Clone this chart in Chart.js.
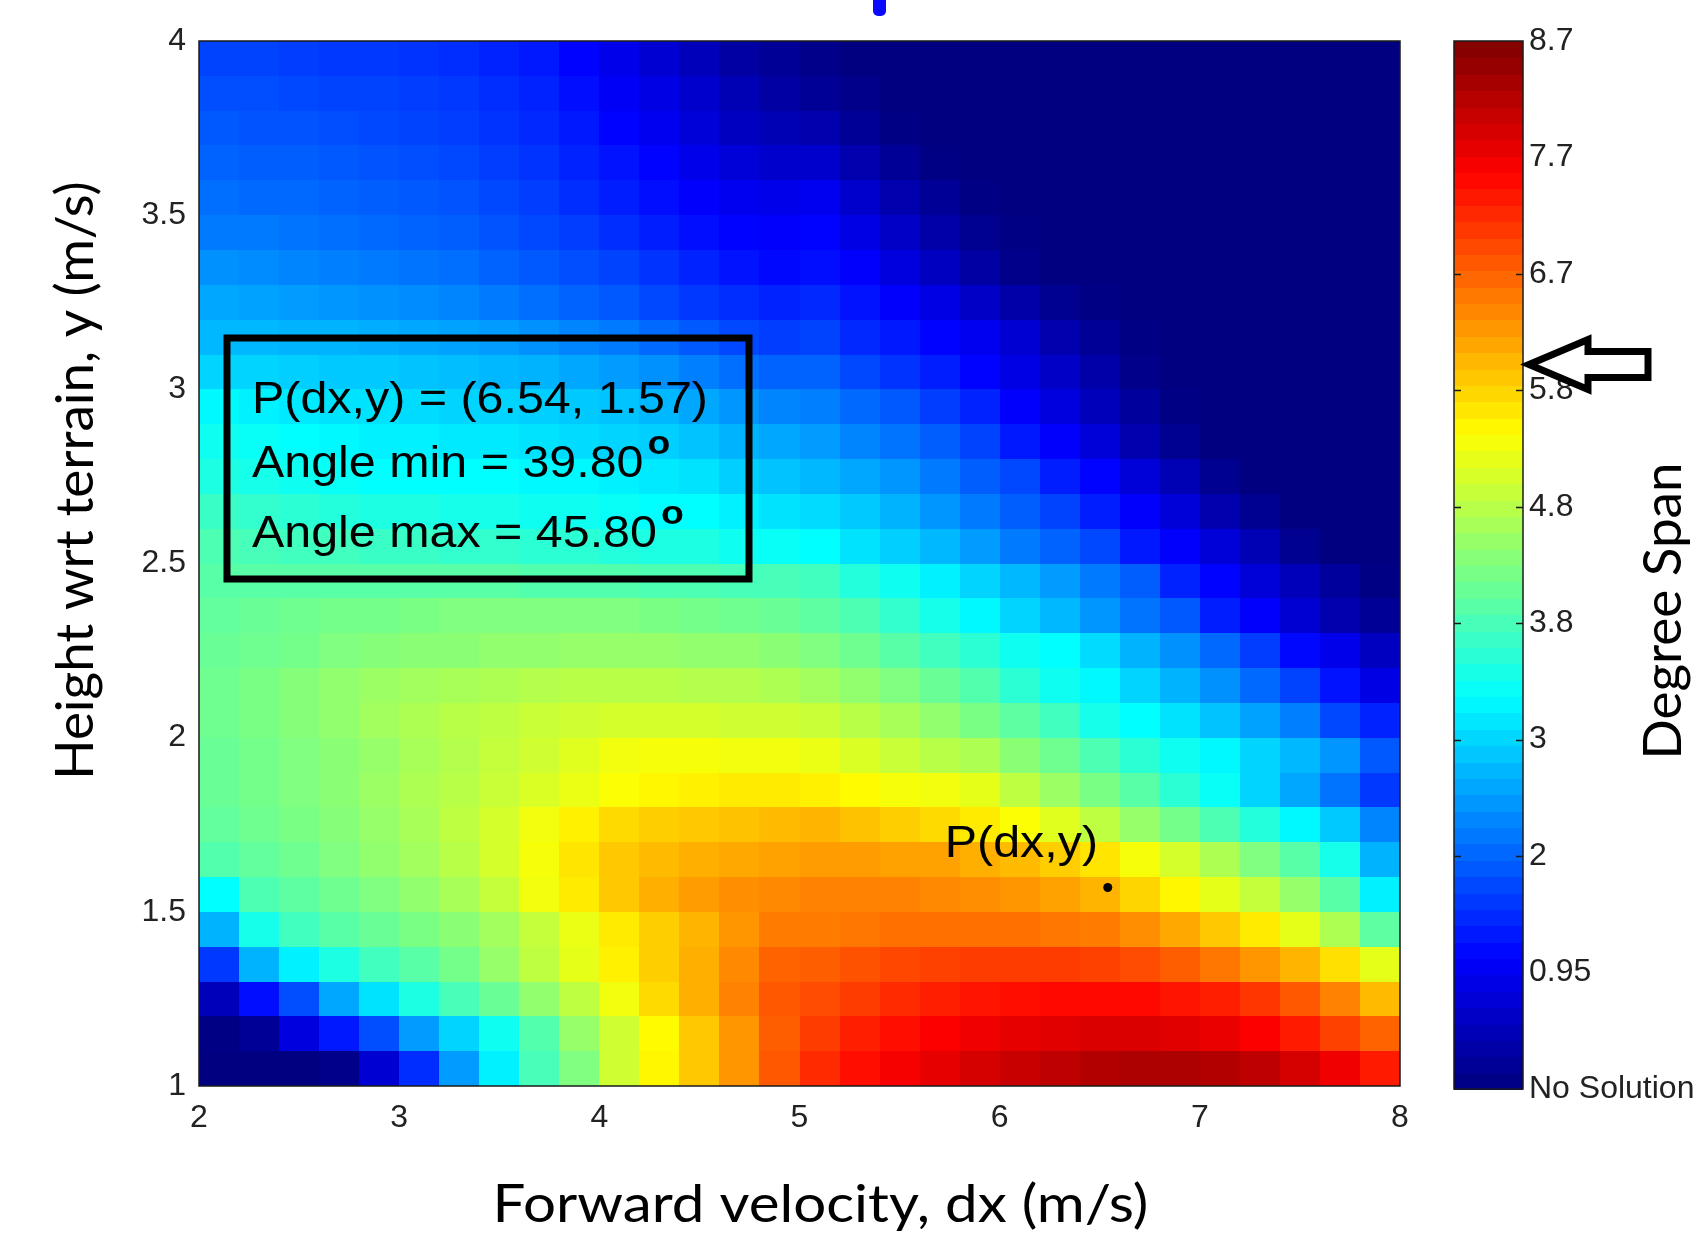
<!DOCTYPE html>
<html>
<head>
<meta charset="utf-8">
<script src="https://cdn.jsdelivr.net/npm/chart.js@4.4.1/dist/chart.umd.min.js"></script>
<style>
  html, body { margin: 0; padding: 0; background: #fff; }
  #wrap { position: relative; width: 1694px; height: 1244px; overflow: hidden; background: #fff; }
  #heat { position: absolute; left: 0; top: 0; }
  #cbar { position: absolute; left: 1400px; top: 0; }
  #topMark { position: absolute; left: 873px; top: 0; width: 13px; height: 16px; background: #0a0aff; border-radius: 0 0 5px 5px; }
</style>
</head>
<body>
<div id="wrap">
  <canvas id="heat" width="1694" height="1244"></canvas>
  <canvas id="cbar" width="294" height="1244"></canvas>
  <div id="topMark"></div>
</div>
<script>
// grid cell centres (forward velocity dx, height y)
const dxCenters = [2.1, 2.3, 2.5, 2.7, 2.9, 3.1, 3.3, 3.5, 3.7, 3.9, 4.1, 4.3, 4.5, 4.7, 4.9,
                   5.1, 5.3, 5.5, 5.7, 5.9, 6.1, 6.3, 6.5, 6.7, 6.9, 7.1, 7.3, 7.5, 7.7, 7.9];
const yCenters = [3.95, 3.85, 3.75, 3.65, 3.55, 3.45, 3.35, 3.25, 3.15, 3.05,
                  2.95, 2.85, 2.75, 2.65, 2.55, 2.45, 2.35, 2.25, 2.15, 2.05,
                  1.95, 1.85, 1.75, 1.65, 1.55, 1.45, 1.35, 1.25, 1.15, 1.05];

// degree span per cell, one row per yCenters entry (0 = no solution)
const degreeSpan = [
  [1.7,1.7,1.65,1.6,1.6,1.55,1.5,1.4,1.3,1.1,0.9,0.7,0.5,0.3,0.2, 0.1,0,0,0,0,0,0,0,0,0,0,0,0,0,0],
  [1.8,1.8,1.75,1.7,1.7,1.65,1.6,1.5,1.4,1.2,1.0,0.85,0.65,0.45,0.3, 0.2,0.1,0,0,0,0,0,0,0,0,0,0,0,0,0],
  [1.9,1.85,1.85,1.8,1.75,1.7,1.65,1.55,1.45,1.3,1.1,0.95,0.75,0.55,0.45, 0.4,0.2,0.05,0,0,0,0,0,0,0,0,0,0,0,0],
  [2.0,1.95,1.95,1.9,1.85,1.8,1.75,1.65,1.55,1.4,1.25,1.1,0.9,0.75,0.65, 0.65,0.4,0.2,0.05,0,0,0,0,0,0,0,0,0,0,0],
  [2.1,2.05,2.05,2.0,1.95,1.9,1.85,1.75,1.65,1.5,1.35,1.2,1.05,0.95,0.9, 0.95,0.65,0.4,0.2,0.05,0,0,0,0,0,0,0,0,0,0],
  [2.2,2.2,2.15,2.1,2.05,2.0,1.95,1.85,1.75,1.65,1.5,1.35,1.2,1.1,1.05, 1.1,0.85,0.6,0.35,0.15,0.05,0,0,0,0,0,0,0,0,0],
  [2.4,2.35,2.3,2.25,2.2,2.15,2.1,2.0,1.9,1.8,1.7,1.55,1.4,1.25,1.15, 1.2,1.05,0.8,0.55,0.3,0.1,0,0,0,0,0,0,0,0,0],
  [2.6,2.55,2.5,2.45,2.4,2.35,2.3,2.2,2.1,2.0,1.9,1.75,1.6,1.5,1.4, 1.45,1.25,1.05,0.85,0.6,0.35,0.15,0.05,0,0,0,0,0,0,0],
  [2.75,2.75,2.7,2.7,2.65,2.6,2.55,2.5,2.4,2.3,2.2,2.05,1.9,1.75,1.65, 1.7,1.45,1.3,1.1,0.95,0.7,0.4,0.2,0.05,0,0,0,0,0,0],
  [3.0,3.0,2.95,2.9,2.9,2.85,2.8,2.75,2.7,2.6,2.5,2.4,2.25,2.1,2.0, 2.0,1.75,1.55,1.35,1.1,0.85,0.6,0.35,0.1,0,0,0,0,0,0],
  [3.25,3.2,3.15,3.1,3.1,3.05,3.0,3.0,2.95,2.9,2.85,2.75,2.6,2.45,2.3, 2.25,2.05,1.9,1.65,1.4,1.05,0.8,0.5,0.25,0.05,0,0,0,0,0],
  [3.4,3.35,3.3,3.25,3.2,3.2,3.15,3.15,3.1,3.05,3.0,2.95,2.85,2.7,2.6, 2.5,2.3,2.15,1.95,1.7,1.3,1.05,0.75,0.4,0.15,0,0,0,0,0],
  [3.5,3.45,3.4,3.35,3.3,3.3,3.3,3.3,3.25,3.25,3.2,3.15,3.1,2.95,2.85, 2.75,2.6,2.45,2.2,1.95,1.75,1.35,1.1,0.75,0.45,0.15,0,0,0,0],
  [3.7,3.65,3.6,3.55,3.5,3.5,3.45,3.45,3.4,3.4,3.35,3.3,3.3,3.2,3.1, 3.05,2.9,2.7,2.45,2.2,1.95,1.7,1.35,1.05,0.75,0.4,0.15,0,0,0],
  [3.85,3.8,3.75,3.75,3.7,3.7,3.65,3.65,3.6,3.6,3.55,3.5,3.5,3.4,3.35, 3.3,3.1,2.95,2.75,2.5,2.2,2.0,1.75,1.3,1.05,0.75,0.45,0.15,0,0],
  [3.95,3.95,3.95,3.95,3.95,3.95,3.95,3.95,3.9,3.9,3.9,3.85,3.85,3.8,3.8, 3.75,3.55,3.4,3.2,3.0,2.75,2.5,2.2,1.95,1.4,1.1,0.75,0.5,0.25,0.05],
  [4.05,4.1,4.15,4.2,4.2,4.25,4.3,4.3,4.3,4.3,4.3,4.25,4.2,4.15,4.1, 4.0,3.85,3.65,3.45,3.25,3.0,2.75,2.45,2.15,1.9,1.35,1.05,0.7,0.4,0.2],
  [4.1,4.15,4.2,4.3,4.35,4.4,4.4,4.45,4.45,4.5,4.5,4.5,4.45,4.45,4.4, 4.3,4.15,3.95,3.75,3.6,3.4,3.3,3.05,2.7,2.4,2.05,1.65,1.15,0.9,0.55],
  [4.15,4.25,4.35,4.45,4.55,4.6,4.65,4.7,4.75,4.8,4.8,4.8,4.75,4.75,4.7, 4.6,4.45,4.3,4.1,3.9,3.6,3.4,3.25,3.0,2.7,2.4,2.05,1.7,1.25,0.85],
  [4.15,4.25,4.35,4.45,4.6,4.7,4.8,4.85,4.95,5.0,5.05,5.05,5.05,5.0,5.0, 4.95,4.8,4.65,4.45,4.25,4.0,3.75,3.45,3.3,3.1,2.85,2.55,2.25,1.75,1.4],
  [4.1,4.2,4.3,4.4,4.5,4.65,4.75,4.9,5.0,5.15,5.3,5.35,5.35,5.3,5.3, 5.25,5.1,4.95,4.8,4.7,4.4,4.15,3.85,3.6,3.4,3.25,3.0,2.75,2.45,1.9],
  [4.1,4.2,4.3,4.4,4.55,4.7,4.8,4.95,5.1,5.25,5.4,5.5,5.55,5.6,5.6, 5.55,5.45,5.35,5.3,5.2,4.85,4.55,4.25,3.95,3.6,3.35,3.0,2.6,2.15,1.6],
  [4.05,4.15,4.25,4.35,4.5,4.65,4.85,5.05,5.3,5.55,5.75,5.85,5.9,5.95,6.0, 6.05,5.95,5.85,5.75,5.6,5.4,5.15,4.85,4.5,4.2,3.85,3.55,3.25,2.9,2.3],
  [3.9,4.05,4.15,4.3,4.45,4.6,4.8,5.05,5.35,5.65,5.9,6.0,6.1,6.15,6.2, 6.25,6.25,6.2,6.2,6.1,6.0,5.85,5.65,5.35,5.05,4.7,4.3,3.95,3.45,2.7],
  [3.3,3.85,4.0,4.15,4.3,4.45,4.65,4.9,5.3,5.6,5.9,6.1,6.25,6.35,6.4, 6.45,6.45,6.45,6.4,6.35,6.3,6.2,6.05,5.8,5.5,5.2,4.9,4.5,3.95,3.2],
  [2.7,3.45,3.75,3.95,4.1,4.25,4.4,4.6,4.9,5.25,5.6,5.85,6.05,6.3,6.5, 6.5,6.55,6.6,6.6,6.6,6.6,6.55,6.5,6.35,6.15,5.9,5.6,5.2,4.7,4.0],
  [1.6,2.7,3.2,3.5,3.75,3.95,4.2,4.5,4.85,5.2,5.55,5.85,6.1,6.4,6.7, 6.75,6.85,6.95,7.0,7.05,7.05,7.05,7.0,6.9,6.75,6.55,6.3,6.05,5.7,5.2],
  [0.5,1.2,1.8,2.6,3.1,3.5,3.8,4.1,4.45,4.85,5.3,5.75,6.1,6.45,6.8, 6.9,7.05,7.2,7.3,7.4,7.45,7.5,7.5,7.5,7.4,7.3,7.1,6.8,6.45,6.0],
  [0.05,0.2,0.8,1.3,1.8,2.5,3.0,3.4,3.9,4.5,5.0,5.45,5.9,6.3,6.75, 7.05,7.3,7.45,7.6,7.7,7.8,7.85,7.9,7.9,7.85,7.75,7.6,7.35,7.0,6.7],
  [0,0,0,0.1,0.7,1.5,2.5,3.2,3.8,4.3,5.0,5.5,5.9,6.3,6.8, 7.2,7.45,7.65,7.8,7.95,8.05,8.15,8.25,8.3,8.3,8.25,8.15,7.95,7.7,7.35]
];

// colour bar: label text and the degree value at each evenly spaced label
const colorbarLabels = ['No Solution', '0.95', '2', '3', '3.8', '4.8', '5.8', '6.7', '7.7', '8.7'];
const colorbarValues = [0, 0.95, 2, 3, 3.8, 4.8, 5.8, 6.7, 7.7, 8.7];
const colorbarTickedIdx = [2, 3, 4, 5, 6, 7];

// highlighted point
const pointP = { dx: 6.54, y: 1.57, angleMin: 39.80, angleMax: 45.80 };

const TICK_FONT = { family: '"Liberation Sans", Arial, sans-serif', size: 32 };
const TITLE_FONT = '53px Lato, "Open Sans", sans-serif';
const NOTE_FONT = '44px "Liberation Sans", Arial, sans-serif';
const SUP_FONT = 'bold 34px "Liberation Sans", Arial, sans-serif';

// degree span -> position 0..1 along the colour bar
function spanToLevel(v) {
  const n = colorbarValues.length - 1;
  for (let i = 1; i <= n; i++) {
    if (v <= colorbarValues[i]) {
      const a = colorbarValues[i - 1], b = colorbarValues[i];
      return (i - 1 + (v - a) / (b - a)) / n;
    }
  }
  return 1;
}

function jet(t) {
  const c = k => Math.round(255 * Math.max(0, Math.min(1, 1.5 - Math.abs(4 * t - k))));
  return 'rgb(' + c(3) + ',' + c(2) + ',' + c(1) + ')';
}

function edges(centers, i) {
  const lo = i === 0 ? centers[0] - (centers[1] - centers[0]) / 2 : (centers[i - 1] + centers[i]) / 2;
  const last = centers.length - 1;
  const hi = i === last ? centers[last] + (centers[last] - centers[last - 1]) / 2 : (centers[i] + centers[i + 1]) / 2;
  return [lo, hi];
}

function wideText(ctx, text, x, y, font, sx) {
  ctx.save();
  ctx.font = font;
  ctx.translate(x, y);
  ctx.scale(sx, 1);
  ctx.fillText(text, 0, 0);
  const w = ctx.measureText(text).width * sx;
  ctx.restore();
  return w;
}

const heatmapPlugin = {
  id: 'heatmap',
  beforeDatasetsDraw(chart) {
    const { ctx, chartArea: a, scales: { x, y } } = chart;
    ctx.save();
    ctx.beginPath();
    ctx.rect(a.left, a.top, a.right - a.left, a.bottom - a.top);
    ctx.clip();
    for (let r = 0; r < yCenters.length; r++) {
      const [ylo, yhi] = edges(yCenters, r);
      const p0 = Math.round(y.getPixelForValue(ylo)), p1 = Math.round(y.getPixelForValue(yhi));
      for (let c = 0; c < dxCenters.length; c++) {
        const [xlo, xhi] = edges(dxCenters, c);
        const q0 = Math.round(x.getPixelForValue(xlo)), q1 = Math.round(x.getPixelForValue(xhi));
        ctx.fillStyle = jet(spanToLevel(degreeSpan[r][c]));
        ctx.fillRect(Math.min(q0, q1), Math.min(p0, p1), Math.abs(q1 - q0) + 1, Math.abs(p1 - p0) + 1);
      }
    }
    ctx.restore();
  }
};

const overlayPlugin = {
  id: 'overlay',
  afterDraw(chart) {
    const { ctx, chartArea: a, scales: { x, y } } = chart;
    ctx.save();
    ctx.strokeStyle = '#1a1a1a';
    ctx.lineWidth = 1.5;
    ctx.strokeRect(a.left, a.top, a.right - a.left, a.bottom - a.top);

    ctx.fillStyle = '#000';
    ctx.textAlign = 'left';
    ctx.textBaseline = 'alphabetic';

    // label next to the point
    const px = x.getPixelForValue(pointP.dx), py = y.getPixelForValue(pointP.y);
    wideText(ctx, 'P(dx,y)', px - 163, py - 30, NOTE_FONT, 1.1);

    // info box
    const bx = a.left + 28, by = a.top + 297, bw = 522, bh = 241;
    ctx.lineWidth = 7;
    ctx.strokeStyle = '#000';
    ctx.strokeRect(bx, by, bw, bh);
    const tx = bx + 25;
    wideText(ctx, 'P(dx,y) = (' + pointP.dx.toFixed(2) + ', ' + pointP.y.toFixed(2) + ')', tx, by + 75, NOTE_FONT, 1.1);
    let w = wideText(ctx, 'Angle min = ' + pointP.angleMin.toFixed(2), tx, by + 139, NOTE_FONT, 1.1);
    wideText(ctx, 'o', tx + w + 4, by + 116, SUP_FONT, 1.1);
    w = wideText(ctx, 'Angle max = ' + pointP.angleMax.toFixed(2), tx, by + 209, NOTE_FONT, 1.1);
    wideText(ctx, 'o', tx + w + 4, by + 186, SUP_FONT, 1.1);

    // axis titles
    ctx.textAlign = 'center';
    ctx.textBaseline = 'middle';
    wideText(ctx, 'Forward velocity, dx (m/s)', (a.left + a.right) / 2 + 21, a.bottom + 119, TITLE_FONT, 1.1);
    ctx.save();
    ctx.translate(a.left - 123, (a.top + a.bottom) / 2 - 83);
    ctx.rotate(-Math.PI / 2);
    ctx.font = TITLE_FONT;
    ctx.fillText('Height wrt terrain, y (m/s)', 0, 0);
    ctx.restore();
    ctx.restore();
  }
};

new Chart(document.getElementById('heat'), {
  type: 'scatter',
  data: {
    datasets: [{
      data: [{ x: pointP.dx, y: pointP.y }],
      pointRadius: 4.5,
      backgroundColor: '#000',
      borderWidth: 0
    }]
  },
  options: {
    responsive: false,
    animation: false,
    devicePixelRatio: 1,
    layout: { padding: { left: 0, top: 41, right: 294, bottom: 0 } },
    plugins: { legend: { display: false }, tooltip: { enabled: false } },
    scales: {
      x: {
        type: 'linear', min: 2, max: 8,
        ticks: { stepSize: 1, padding: 13, maxRotation: 0, color: '#222', font: TICK_FONT, callback: v => String(v) },
        grid: { display: false, drawTicks: false },
        border: { display: false },
        afterFit: s => { s.height = 158; }
      },
      y: {
        type: 'linear', min: 1, max: 4,
        ticks: { stepSize: 0.5, padding: 13, color: '#222', font: TICK_FONT, callback: v => String(v) },
        grid: { display: false, drawTicks: false },
        border: { display: false },
        afterFit: s => { s.width = 199; }
      }
    }
  },
  plugins: [heatmapPlugin, overlayPlugin]
});

const colorbarPlugin = {
  id: 'colorbar',
  beforeDatasetsDraw(chart) {
    const { ctx, chartArea: a, scales: { y } } = chart;
    const n = colorbarLabels.length - 1;
    const bands = 64;
    ctx.save();
    for (let i = 0; i < bands; i++) {
      const y0 = Math.round(y.getPixelForValue(i * n / bands));
      const y1 = Math.round(y.getPixelForValue((i + 1) * n / bands));
      ctx.fillStyle = jet((i + 0.5) / bands);
      ctx.fillRect(a.left, y1, a.right - a.left, y0 - y1 + 1);
    }
    ctx.strokeStyle = '#1a1a1a';
    ctx.lineWidth = 1.5;
    ctx.strokeRect(a.left, a.top, a.right - a.left, a.bottom - a.top);
    colorbarTickedIdx.forEach(i => {
      const ty = Math.round(y.getPixelForValue(i)) + 0.5;
      ctx.beginPath();
      ctx.moveTo(a.left, ty); ctx.lineTo(a.left + 7, ty);
      ctx.moveTo(a.right - 7, ty); ctx.lineTo(a.right, ty);
      ctx.stroke();
    });

    // arrow pointing at the span of P
    const span = pointP.angleMax - pointP.angleMin;
    const ay = y.getPixelForValue(spanToLevel(span) * n);
    const ax = a.right + 6;
    ctx.beginPath();
    ctx.moveTo(ax, ay);
    ctx.lineTo(ax + 59, ay - 25);
    ctx.lineTo(ax + 59, ay - 13);
    ctx.lineTo(ax + 119, ay - 13);
    ctx.lineTo(ax + 119, ay + 13);
    ctx.lineTo(ax + 59, ay + 13);
    ctx.lineTo(ax + 59, ay + 25);
    ctx.closePath();
    ctx.fillStyle = '#fff';
    ctx.fill();
    ctx.lineWidth = 7;
    ctx.lineJoin = 'miter';
    ctx.strokeStyle = '#000';
    ctx.stroke();

    // colour bar title
    ctx.save();
    ctx.translate(a.right + 141, (a.top + a.bottom) / 2 + 46);
    ctx.rotate(-Math.PI / 2);
    ctx.font = TITLE_FONT;
    ctx.fillStyle = '#000';
    ctx.textAlign = 'center';
    ctx.textBaseline = 'middle';
    ctx.fillText('Degree Span', 0, 0);
    ctx.restore();
    ctx.restore();
  }
};

new Chart(document.getElementById('cbar'), {
  type: 'scatter',
  data: { datasets: [{ data: [] }] },
  options: {
    responsive: false,
    animation: false,
    devicePixelRatio: 1,
    layout: { padding: { left: 54, top: 41, right: 0, bottom: 155 } },
    plugins: { legend: { display: false }, tooltip: { enabled: false } },
    scales: {
      x: { display: false, min: 0, max: 1 },
      y: {
        position: 'right', min: 0, max: colorbarLabels.length - 1,
        ticks: {
          stepSize: 1, padding: 6, color: '#222', font: TICK_FONT, autoSkip: false,
          callback: v => colorbarLabels[v] ?? ''
        },
        grid: { display: false, drawTicks: false },
        border: { display: false },
        afterFit: s => { s.width = 171; }
      }
    }
  },
  plugins: [colorbarPlugin]
});
</script>
</body>
</html>
